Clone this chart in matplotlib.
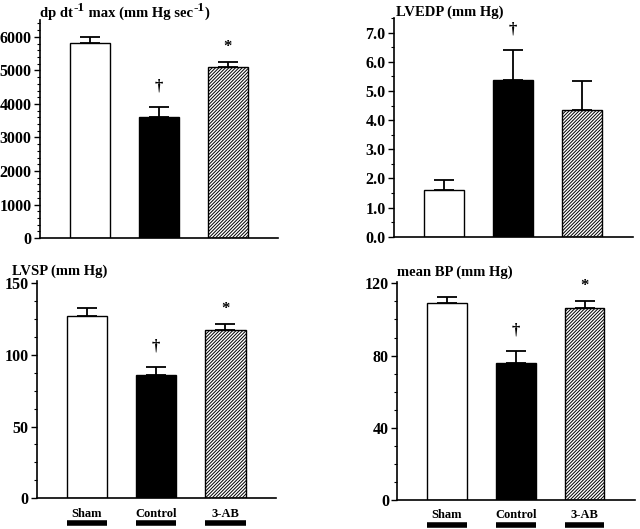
import numpy as np
import matplotlib
matplotlib.use("Agg")
import matplotlib.pyplot as plt
from matplotlib.ticker import MultipleLocator

plt.rcParams['font.family'] = ['Liberation Serif', 'DejaVu Serif']
plt.rcParams['font.weight'] = 'bold'
plt.rcParams['hatch.linewidth'] = 0.7

groups = ["Sham", "Control", "3-AB"]

# dp/dt max
dpdt_mean = [5820, 3600, 5100]
dpdt_err = [180, 310, 160]
dpdt_marks = ["", "\u2020", "*"]

# LVEDP
lvedp_mean = [1.61, 5.38, 4.34]
lvedp_err = [0.34, 1.04, 1.02]
lvedp_marks = ["", "\u2020", ""]

# LVSP
lvsp_mean = [126.9, 85.8, 116.9]
lvsp_err = [5.3, 5.6, 4.2]
lvsp_marks = ["", "\u2020", "*"]

# mean BP
bp_mean = [109.2, 75.8, 106.6]
bp_err = [3.4, 6.5, 3.8]
bp_marks = ["", "\u2020", "*"]

fig = plt.figure(figsize=(6.4, 5.29), dpi=100)


def title_parts(ax, parts, x0, y0):
    # parts: list of (text, is_superscript); pieces placed one after another
    prev = None
    for s, is_sup in parts:
        size = 9.5 if is_sup else 10.5
        dy = 4.5 if is_sup else 0
        if prev is None:
            prev = ax.annotate(s, xy=(x0, y0), xycoords="axes fraction",
                               xytext=(0, dy), textcoords="offset points",
                               ha="left", va="baseline", fontsize=size, fontweight="bold")
        else:
            prev = ax.annotate(s, xy=(1, y0), xycoords=(prev, ax.transAxes),
                               xytext=(0.3, dy), textcoords="offset points",
                               ha="left", va="baseline", fontsize=size, fontweight="bold")


panels = [
    # rect, title parts, title x, title y, means, errs, marks, ylim, major, minor, fmt, show_groups
    ([0.0625, 0.550, 0.372, 0.412],
     [("dp dt", False), ("-1", True), (" max (mm Hg sec", False), ("-1", True), (")", False)],
     0.0, 1.015, dpdt_mean, dpdt_err, dpdt_marks, 6500, 1000, 200, "{:.0f}", False),
    ([0.6156, 0.5526, 0.3734, 0.413], [("LVEDP (mm Hg)", False)], 0.01, 1.01,
     lvedp_mean, lvedp_err, lvedp_marks, 7.5, 1.0, 0.5, "{:.1f}", False),
    ([0.0573, 0.058, 0.374, 0.410], [("LVSP (mm Hg)", False)], -0.105, 1.03,
     lvsp_mean, lvsp_err, lvsp_marks, 151, 50, 12.5, "{:.0f}", True),
    ([0.6208, 0.0548, 0.371, 0.413], [("mean BP (mm Hg)", False)], 0.0, 1.025,
     bp_mean, bp_err, bp_marks, 121, 40, 10, "{:.0f}", True),
]

x = np.arange(len(groups))
faces = ["white", "black", "white"]
hatches = [None, None, "//////////"]

for rect, parts, tx, ty, means, errs, marks, ytop, major, minor, fmt, show_groups in panels:
    ax = fig.add_axes(rect)
    bars = ax.bar(x, means, width=0.58, color=faces, edgecolor="black", linewidth=1.0, zorder=2)
    for b, h in zip(bars, hatches):
        if h:
            b.set_hatch(h)
    ax.errorbar(x, means, yerr=[np.zeros(3), errs], fmt="none", ecolor="black",
                elinewidth=1.3, capsize=7.5, capthick=1.3, zorder=1)
    for xi, m, e, mk in zip(x, means, errs, marks):
        if mk:
            off = 9 if mk == "\u2020" else 5
            ax.annotate(mk, (xi, m + e), xytext=(0, off), textcoords="offset points",
                        ha="center", va="bottom", fontsize=12, fontweight="bold")
    ax.set_xlim(-0.72, 2.73)
    ax.set_ylim(0, ytop)
    ax.spines["top"].set_visible(False)
    ax.spines["right"].set_visible(False)
    ax.spines["left"].set_linewidth(1.2)
    ax.spines["bottom"].set_linewidth(1.2)
    ax.set_xticks([])
    ax.yaxis.set_major_locator(MultipleLocator(major))
    ax.yaxis.set_minor_locator(MultipleLocator(minor))
    ticks = np.arange(0, ytop + 1e-9, major)
    ax.set_yticks(ticks)
    ax.set_yticklabels([fmt.format(t) for t in ticks], fontsize=11.5, fontweight="bold")
    ax.tick_params(axis="y", which="major", length=4, width=1.0, pad=2)
    ax.tick_params(axis="y", which="minor", length=2.5, width=0.8)
    title_parts(ax, parts, tx, ty)
    if show_groups:
        trans = ax.get_xaxis_transform()
        for xi, g in zip(x, groups):
            ax.text(xi, -0.07, g, transform=trans, ha="center", va="center",
                    fontsize=9, fontweight="bold")
        ax.hlines([-0.115] * 3, x - 0.29, x + 0.29, transform=trans, colors="black",
                  linewidth=4, clip_on=False)

fig.savefig("out.png", dpi=100)
